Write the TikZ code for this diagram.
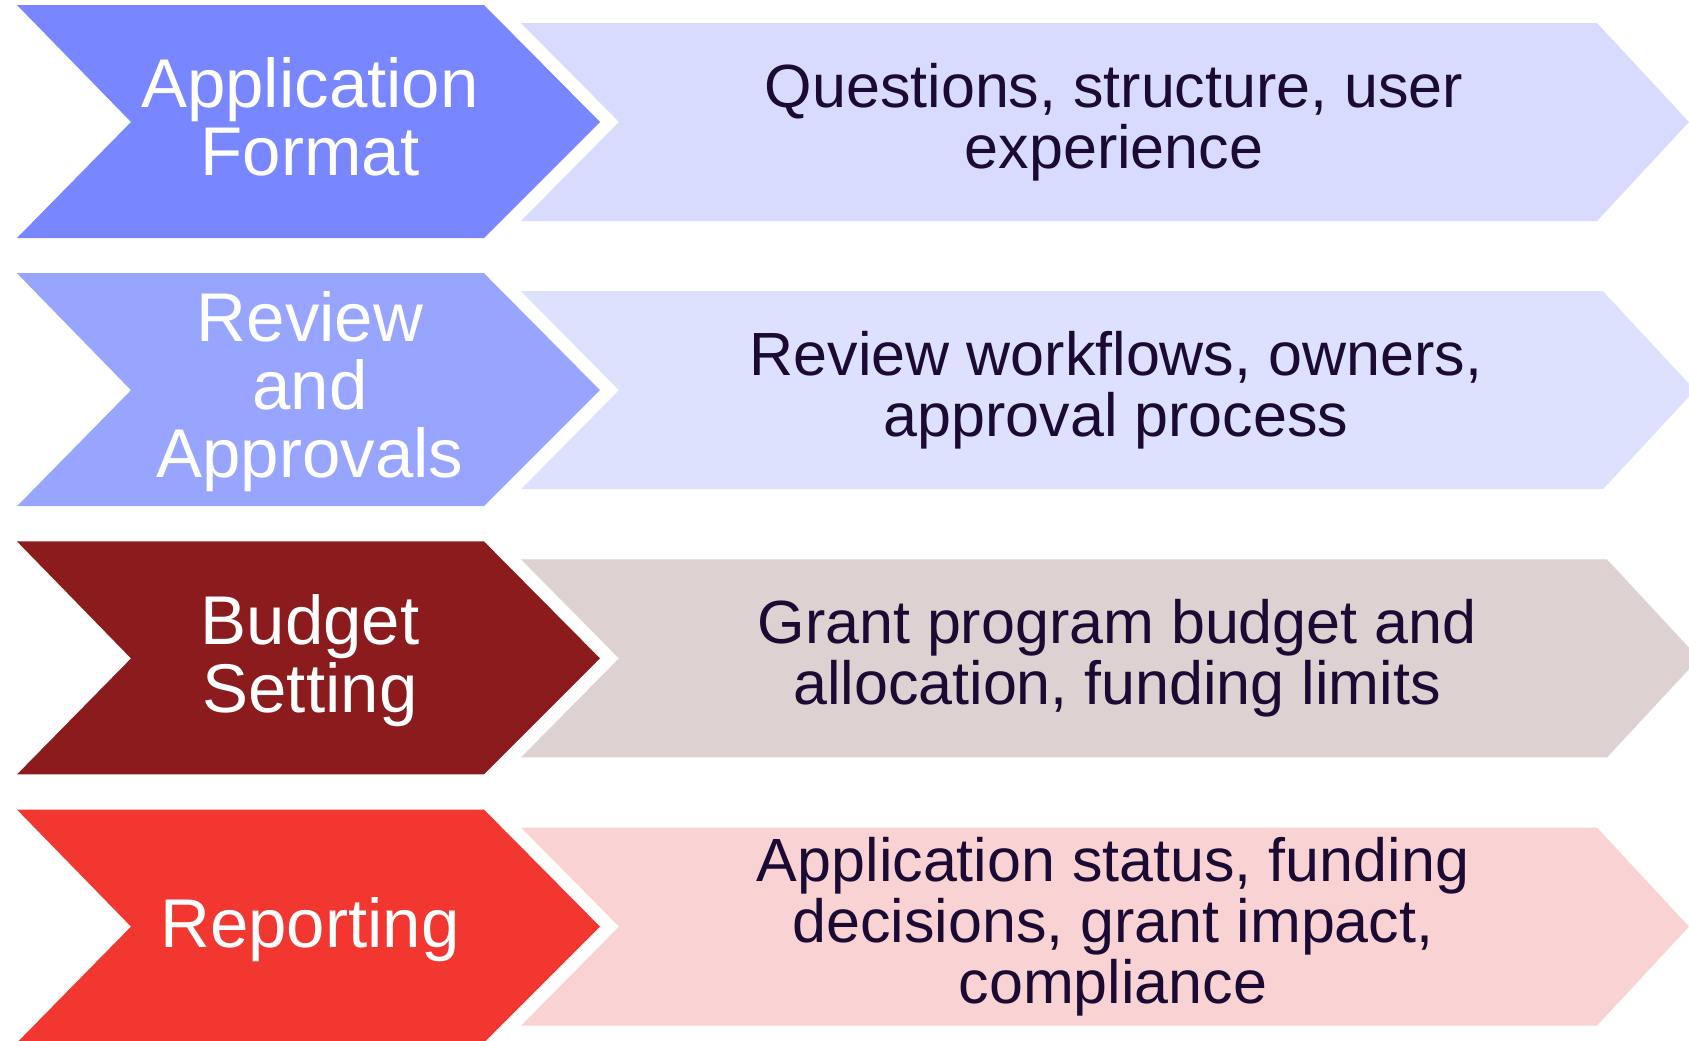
\documentclass[tikz,border=0pt]{standalone}
\usepackage{fontspec}
\setmainfont{Liberation Sans}
\definecolor{fmtdark}{HTML}{7886FF}
\definecolor{fmtlight}{HTML}{D9DBFE}
\definecolor{revdark}{HTML}{97A5FF}
\definecolor{revlight}{HTML}{DDE1FE}
\definecolor{buddark}{HTML}{8B1B1D}
\definecolor{budlight}{HTML}{DDD1D1}
\definecolor{repdark}{HTML}{F23630}
\definecolor{replight}{HTML}{F9D2D3}
\definecolor{bodytext}{HTML}{1B0A33}
\tikzset{
  stagelabel/.style={align=center, text=white, inner sep=0pt,
    font=\fontsize{34.5}{34}\selectfont},
  detaillabel/.style={align=center, text=bodytext, inner sep=0pt,
    font=\fontsize{30.5}{30.5}\selectfont}
}

\begin{document}
\begin{tikzpicture}[x=0.5pt, y=-0.5pt]
  \useasboundingbox (0,0) rectangle (1689,1040);
  % Left chevrons
  \fill[fmtdark] (17,5) -- (484,5) -- (600,122) -- (484,238) -- (17,238) -- (131,122) -- cycle;
  \fill[revdark] (17,273.2) -- (484,273.2) -- (600,390.2) -- (484,506.2) -- (17,506.2) -- (131,390.2) -- cycle;
  \fill[buddark] (17,541.4) -- (484,541.4) -- (600,658.4) -- (484,774.4) -- (17,774.4) -- (131,658.4) -- cycle;
  \fill[repdark] (17,809.6) -- (484,809.6) -- (600,926.6) -- (484,1042.6) -- (17,1042.6) -- (131,926.6) -- cycle;
  % Right chevrons
  \fill[fmtlight] (521,23) -- (1597,23) -- (1689,122) -- (1597,221) -- (521,221) -- (619,122) -- cycle;
  \fill[revlight] (521,291.2) -- (1603,291.2) -- (1695,390.2) -- (1603,489.2) -- (521,489.2) -- (619,390.2) -- cycle;
  \fill[budlight] (521,559.4) -- (1607,559.4) -- (1699,658.4) -- (1607,757.4) -- (521,757.4) -- (619,658.4) -- cycle;
  \fill[replight] (521,827.6) -- (1597,827.6) -- (1689,926.6) -- (1597,1025.6) -- (521,1025.6) -- (619,926.6) -- cycle;
  % Stage names
  \node[stagelabel] (format) at (310,117) {Application\\Format};
  \node[stagelabel] (review) at (310,392) {Review\\and\\Approvals};
  \node[stagelabel] (budget) at (310,661) {Budget\\Setting};
  \node[stagelabel] (report) at (310,930) {Reporting};
  % Details
  \node[detaillabel] (formatinfo) at (1114,122) {Questions, structure, user\\experience};
  \node[detaillabel] (reviewinfo) at (1116,390.2) {Review workflows, owners,\\approval process};
  \node[detaillabel] (budgetinfo) at (1117,658.4) {Grant program budget and\\allocation, funding limits};
  \node[detaillabel] (reportinfo) at (1113,926.6) {Application status, funding\\decisions, grant impact,\\compliance};
\end{tikzpicture}
\end{document}
